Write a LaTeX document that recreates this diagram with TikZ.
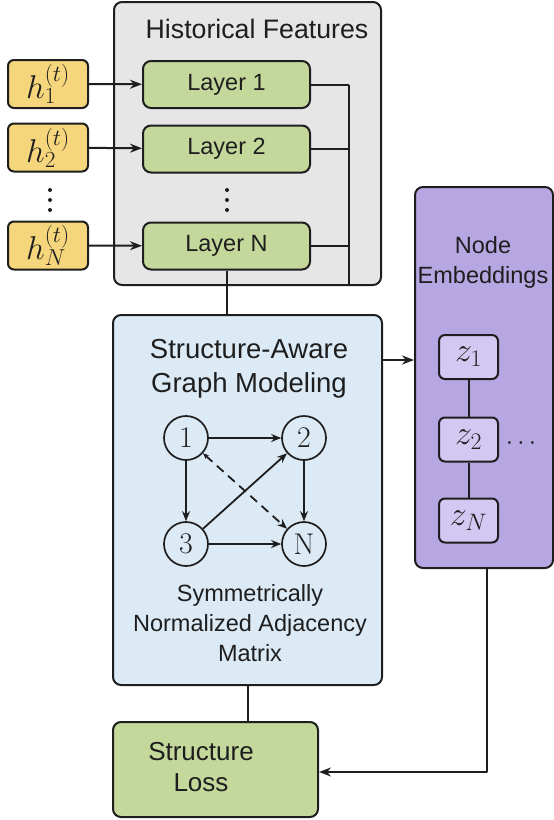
\RequirePackage{fix-cm}
\documentclass[tikz,border=0pt]{standalone}
\usepackage{fontspec}
\setsansfont{Liberation Sans}
\usetikzlibrary{arrows.meta,calc}
\definecolor{histgray}{HTML}{E6E6E6}
\definecolor{hyellow}{HTML}{F5D67C}
\definecolor{lgreen}{HTML}{C5D89B}
\definecolor{sblue}{HTML}{DCEAF6}
\definecolor{epurple}{HTML}{B6A6E2}
\definecolor{zpurple}{HTML}{D3C8F2}
\definecolor{inkc}{HTML}{1E1E1E}
\begin{document}
\begin{tikzpicture}[x=1pt,y=-1pt,line join=round,
  box/.style={draw=inkc,line width=2pt,rounded corners=8pt,inner sep=0pt,text=inkc},
  histbox/.style={box,fill=histgray,minimum width=267pt,minimum height=283pt},
  hbox/.style={box,fill=hyellow,rounded corners=6pt,minimum width=80pt,minimum height=48pt,font=\fontsize{33}{36}\selectfont},
  layerbox/.style={box,fill=lgreen,minimum width=167pt,minimum height=47pt,font=\sffamily\fontsize{23.5}{28}\selectfont},
  structbox/.style={box,fill=sblue,minimum width=269pt,minimum height=370pt},
  embbox/.style={box,fill=epurple,minimum width=138pt,minimum height=381pt},
  zbox/.style={box,fill=zpurple,rounded corners=6pt,minimum width=59pt,minimum height=44pt,font=\fontsize{34}{36}\selectfont},
  lossbox/.style={box,fill=lgreen,minimum width=205pt,minimum height=95pt},
  gnode/.style={circle,draw=inkc,line width=1.7pt,minimum size=44pt,inner sep=0pt,text=inkc,font=\fontsize{30}{32}\selectfont},
  titletext/.style={text=inkc,font=\sffamily\fontsize{27.5}{34}\selectfont,align=center,inner sep=0pt},
  bodytext/.style={text=inkc,font=\sffamily\fontsize{23.5}{30}\selectfont,align=center,inner sep=0pt},
  dotstext/.style={text=inkc,inner sep=0pt,font=\fontsize{26}{30}\selectfont},
  dotmark/.style={fill=inkc,draw=none,circle,minimum size=4pt,inner sep=0pt},
  conn/.style={draw=inkc,line width=2pt},
  arr/.style={conn,-{Stealth[length=12pt,width=9pt]}},
  garr/.style={draw=inkc,line width=1.8pt,-{Stealth[length=10pt,width=8pt]}},
  gdash/.style={draw=inkc,line width=1.8pt,dash pattern=on 9pt off 6pt,{Stealth[length=6pt,width=5pt]}-{Stealth[length=10pt,width=8pt]}}
]
\useasboundingbox (0,0) rectangle (554,820);

% Historical features panel
\node[histbox] (hist) at (247.5,143.5) {};
\node[titletext,font=\sffamily\fontsize{26.7}{32}\selectfont] (histtitle) at (257,29) {Historical Features};

\node[hbox] (h1) at (48,84) {$h_1^{(t)}$};
\node[hbox] (h2) at (48,147.5) {$h_2^{(t)}$};
\node[hbox] (hN) at (48,245.5) {$h_N^{(t)}$};
\foreach \yy [count=\i] in {190,200,210} {
  \node[dotmark] (hd\i) at (50,\yy) {};
  \node[dotmark] (ld\i) at (227,\yy) {};
}

\node[layerbox] (L1) at (226.5,84.5) {Layer 1};
\node[layerbox] (L2) at (226.5,149) {Layer 2};
\node[layerbox] (LN) at (226.5,246) {Layer N};

\draw[arr] (h1) -- (L1);
\draw[arr] (h2) -- (L2);
\draw[arr] (hN) -- (LN);

\coordinate (busT) at (349,84.5);
\coordinate (busB) at (349,285);
\draw[conn] (L1.east) -- (L1.east -| busT);
\draw[conn] (L2.east) -- (L2.east -| busT);
\draw[conn] (LN.east) -- (LN.east -| busT);
\draw[conn] (busT) -- (busB);

% Structure-aware graph modeling
\node[structbox] (struct) at (247.5,500) {};
\node[titletext] (structtitle) at (249,369) {Structure-Aware\\Graph Modeling};
\node[bodytext] (structbody) at (250,623) {Symmetrically\\Normalized Adjacency\\Matrix};

\node[gnode] (g1) at (186,438) {1};
\node[gnode] (g2) at (304,438) {2};
\node[gnode] (g3) at (186,544) {3};
\node[gnode] (gN) at (304,544) {N};
\draw[garr] (g1) -- (g2);
\draw[garr] (g1) -- (g3);
\draw[garr] (g2) -- (gN);
\draw[garr] (g3) -- (gN);
\draw[garr] (g3) -- (g2);
\draw[gdash] (g1) -- (gN);

\draw[conn] (LN.south) -- (LN.south |- struct.north);

% Node embeddings
\node[embbox] (emb) at (484,377.5) {};
\node[bodytext] (embtitle) at (483,262) {Node\\Embeddings};
\node[zbox] (z1) at (468.5,357) {$z_1$};
\node[zbox] (z2) at (468.5,439.5) {$z_2$};
\node[zbox] (zN) at (468.5,520.5) {$z_N$};
\node[dotstext] (zdots) at (521,444) {$\cdots$};
\draw[conn] (z1) -- (z2);
\draw[conn] (z2) -- (zN);

\draw[arr] (struct.east |- 0,360) -- (emb.west |- 0,360);

% Structure loss
\node[lossbox] (loss) at (215.5,769.5) {};
\node[titletext,text width=150pt,font=\sffamily\fontsize{26}{31}\selectfont] (losstext) at (201,767) {Structure\\Loss};
\draw[conn] (struct.south) -- (struct.south |- loss.north);

\coordinate (embB) at (487,568);
\coordinate (elbow) at (487,772);
\draw[arr] (embB) -- (elbow) -- (elbow -| loss.east);
\end{tikzpicture}
\end{document}
